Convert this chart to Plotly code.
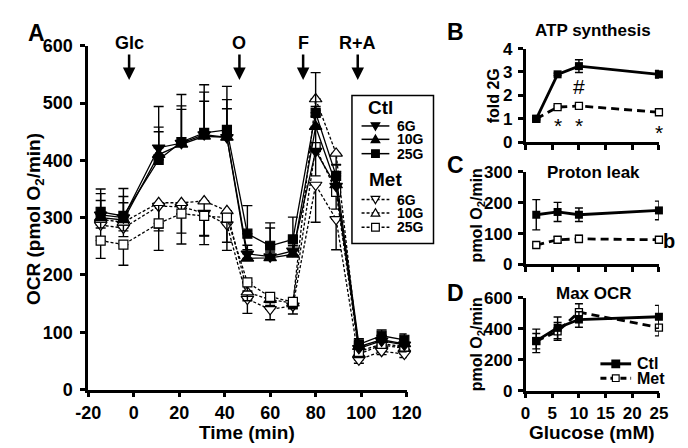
import plotly.graph_objects as go

FONT = "Liberation Sans, Arial, sans-serif"
W, H = 688, 448

# panel A: OCR time course (pmol O2/min)
time_min = [-14.5, -4.5, 11, 21, 31, 41, 50, 60, 70, 80, 89, 99, 109, 119]

ctl_6g = [305, 300, 422, 430, 445, 440, 237, 232, 242, 416, 355, 72, 85, 78]
ctl_10g = [300, 296, 410, 428, 442, 440, 229, 230, 236, 459, 357, 75, 87, 80]
ctl_25g = [310, 303, 401, 432, 448, 453, 272, 251, 262, 483, 373, 79, 94, 87]
met_6g = [287, 282, 320, 319, 308, 288, 158, 140, 146, 357, 297, 52, 67, 62]
met_10g = [297, 292, 326, 326, 329, 312, 170, 157, 151, 507, 412, 62, 78, 72]
met_25g = [260, 253, 290, 307, 303, 300, 187, 162, 153, 423, 345, 66, 80, 75]

ctl_6g_err = [37, 37, 72, 65, 74, 66, 15, 50, 15, 40, 25, 8, 8, 8]
ctl_10g_err = [30, 30, 40, 61, 61, 50, 15, 10, 15, 35, 20, 8, 8, 8]
ctl_25g_err = [40, 48, 57, 83, 84, 76, 49, 40, 39, 70, 20, 10, 10, 10]
met_6g_err = [20, 15, 38, 46, 40, 45, 25, 18, 14, 65, 53, 6, 6, 6]
met_10g_err = [15, 15, 49, 20, 60, 20, 15, 10, 10, 30, 20, 6, 6, 6]
met_25g_err = [31, 36, 47, 53, 50, 43, 15, 10, 10, 50, 30, 6, 6, 6]

time_ticks = [-20, 0, 20, 40, 60, 80, 100, 120]
time_tick_text = ["-20", "0", "20", "40", "60", "80", "100", "120"]

inject_labels = ["Glc", "O", "F", "R+A"]
inject_times = [-2, 46.5, 74.5, 98.5]

# panels B-D: vs glucose (mM)
glucose_mm = [2, 6, 10, 25]
atp_ctl = [1.0, 2.9, 3.25, 2.9]
atp_ctl_err = [0.05, 0.05, 0.27, 0.16]
atp_met = [1.0, 1.5, 1.55, 1.28]
atp_met_err = [0.03, 0.05, 0.05, 0.05]
leak_ctl = [161, 170, 161, 175]
leak_ctl_err = [49, 31, 22, 30]
leak_met = [63, 80, 83, 80]
leak_met_err = [5, 10, 12, 8]
max_ctl = [322, 406, 460, 478]
max_ctl_err = [76, 70, 50, 74]
max_met = [320, 383, 508, 408]
max_met_err = [50, 58, 54, 54]


def bold(size, family=FONT):
    return dict(family=family, size=size, color="black", weight="bold")


def px(x, y):
    return x / W, 1 - y / H


def axis(dom, rng, dtick, anchor, size=17, labels=True, standoff=0):
    return dict(domain=dom, range=rng, dtick=dtick, tick0=0, anchor=anchor,
                showline=True, linecolor="black", linewidth=2.5,
                ticks="outside", ticklen=5, tickwidth=2.5, tickcolor="black",
                showgrid=False, zeroline=False, showticklabels=labels,
                ticklabelstandoff=standoff,
                tickfont=bold(size), fixedrange=True)


fig = go.Figure()

# panel A traces
n = len(time_min)
zeros = [0] * n
series_a = [
    (met_6g, met_6g_err, "triangle-down", False, 11),
    (met_10g, met_10g_err, "triangle-up", False, 11),
    (met_25g, met_25g_err, "square", False, 9),
    (ctl_6g, ctl_6g_err, "triangle-down", True, 11),
    (ctl_10g, ctl_10g_err, "triangle-up", True, 11),
    (ctl_25g, ctl_25g_err, "square", True, 9),
]
for vals, err, sym, ctl, size in series_a:
    fig.add_trace(go.Scatter(
        x=time_min, y=vals, mode="lines+markers", xaxis="x", yaxis="y",
        line=dict(color="black", width=1.3, dash="solid" if ctl else "3px,2px"),
        marker=dict(symbol=sym, size=size, color="black" if ctl else "white",
                    line=dict(color="black", width=1.2)),
        error_y=dict(type="data", symmetric=False,
                     array=err if ctl else zeros,
                     arrayminus=zeros if ctl else err,
                     color="black", thickness=1.4, width=5),
        showlegend=False, cliponaxis=False,
    ))

# panels B-D traces
small = [
    ("x2", "y2", atp_ctl, atp_ctl_err, atp_met, atp_met_err),
    ("x3", "y3", leak_ctl, leak_ctl_err, leak_met, leak_met_err),
    ("x4", "y4", max_ctl, max_ctl_err, max_met, max_met_err),
]
for xa, ya, c, ce, m, me in small:
    fig.add_trace(go.Scatter(
        x=glucose_mm, y=m, mode="lines+markers", xaxis=xa, yaxis=ya,
        line=dict(color="black", width=2.8, dash="8px,5px"),
        marker=dict(symbol="square", size=7, color="white",
                    line=dict(color="black", width=1.3)),
        error_y=dict(type="data", array=me, color="black", thickness=1.4, width=4),
        showlegend=False, cliponaxis=False,
    ))
    fig.add_trace(go.Scatter(
        x=glucose_mm, y=c, mode="lines+markers", xaxis=xa, yaxis=ya,
        line=dict(color="black", width=2.8),
        marker=dict(symbol="square", size=8, color="black"),
        error_y=dict(type="data", array=ce, color="black", thickness=1.4, width=4),
        showlegend=False, cliponaxis=False,
    ))

xA = [70 / W, 402 / W]
xS = [526 / W, 665 / W]
x_time = axis(xA, [-20, 120], 20, "y", 18)
x_time.update(tickmode="array", tickvals=time_ticks, ticktext=time_tick_text)
fig.update_layout(
    xaxis=x_time,
    yaxis=axis([1 - 389 / H, 1 - 29 / H], [0, 600], 100, "x", 18, standoff=4),
    xaxis2=axis(xS, [0, 25], 5, "y2", labels=False),
    yaxis2=axis([1 - 130 / H, 1 - 32 / H], [0, 4], 1, "x2", standoff=2),
    xaxis3=axis(xS, [0, 25], 5, "y3", labels=False),
    yaxis3=axis([1 - 258 / H, 1 - 161 / H], [0, 300], 100, "x3", standoff=2),
    xaxis4=axis(xS, [0, 25], 5, "y4"),
    yaxis4=axis([1 - 390 / H, 1 - 293 / H], [0, 600], 200, "x4", standoff=2),
)

ann = []


def label(text, x, y, size, angle=0, xanchor="center", weight="bold"):
    px_, py_ = px(x, y)
    f = bold(size)
    f["weight"] = weight
    ann.append(dict(text=text, x=px_, y=py_, xref="paper", yref="paper",
                    showarrow=False, font=f, textangle=angle,
                    xanchor=xanchor, yanchor="middle"))


# panel letters, titles, axis titles
label("A", 16, 16, 23)
label("B", 453, 15, 23)
label("C", 453, 154, 23)
label("D", 453, 288, 23)
label("ATP synthesis", 596, 13, 17)
label("Proton leak", 597, 162, 17)
label("Max OCR", 597, 288, 17)
label("OCR (pmol O<sub>2</sub>/min)", 14, 210, 19, -90)
label("Time (min)", 236, 434, 19)
label("fold 2G", 492, 81, 16, -90)
label("pmol O<sub>2</sub>/min", 476, 207, 16, -90)
label("pmol O<sub>2</sub>/min", 476, 342, 16, -90)
label("Glucose (mM)", 595, 434, 19)

# injection arrows
for txt, t in zip(inject_labels, inject_times):
    ann.append(dict(text=txt, x=t, y=540, xref="x", yref="y", ax=0, ay=-37,
                    showarrow=True, arrowhead=2, arrowsize=1, arrowwidth=2.5,
                    arrowcolor="black", font=bold(18)))

# significance marks
for txt, x, y in [("*", 6, 0.7), ("*", 10, 0.7), ("*", 25, 0.4), ("#", 10, 2.37)]:
    ann.append(dict(text=txt, x=x, y=y, xref="x2", yref="y2", showarrow=False,
                    font=dict(family=FONT, size=21, color="#000000")))
label("b", 676, 233, 20)

# manual legends
shapes = []


def key_marker(kind, cx, cy, s, filled):
    h = s / 2
    if kind == "square":
        pts = [(cx - h, cy - h), (cx + h, cy - h), (cx + h, cy + h), (cx - h, cy + h)]
    elif kind == "up":
        pts = [(cx, cy - h), (cx + h, cy + h * 0.75), (cx - h, cy + h * 0.75)]
    else:
        pts = [(cx, cy + h), (cx + h, cy - h * 0.75), (cx - h, cy - h * 0.75)]
    path = "M" + " L".join("%.5f,%.5f" % px(*p) for p in pts) + " Z"
    shapes.append(dict(type="path", xref="paper", yref="paper", path=path,
                       fillcolor="black" if filled else "white",
                       line=dict(color="black", width=1.2), layer="above"))


def key_line(x0, x1, y, width, dash):
    a = px(x0, y)
    b = px(x1, y)
    shapes.append(dict(type="line", xref="paper", yref="paper",
                       x0=a[0], y0=a[1], x1=b[0], y1=b[1],
                       line=dict(color="black", width=width, dash=dash), layer="above"))


b0 = px(345, 81)
b1 = px(430, 236)
shapes.append(dict(type="rect", xref="paper", yref="paper", x0=b0[0], y0=b1[1],
                   x1=b1[0], y1=b0[1], line=dict(color="black", width=1.5),
                   fillcolor="white", layer="above"))
label("Ctl", 375, 94, 19)
label("Met", 380, 169, 19)
for name, kind, y in [("6G", "down", 113), ("10G", "up", 127), ("25G", "square", 142)]:
    key_line(355, 384, y, 1.5, "solid")
    key_marker(kind, 369.5, y, 9 if kind != "square" else 8, True)
    label(name, 390, y, 14, xanchor="left")
for name, kind, y in [("6G", "down", 190), ("10G", "up", 204), ("25G", "square", 219)]:
    key_line(355, 384, y, 1.5, "3px,2px")
    key_marker(kind, 369.5, y, 9 if kind != "square" else 8, False)
    label(name, 390, y, 14, xanchor="left")

key_line(604, 636, 362, 3, "solid")
key_marker("square", 620, 362, 8, True)
label("Ctl", 640, 362, 16, xanchor="left")
key_line(604, 636, 377, 3, "6px,4px")
key_marker("square", 620, 377, 7, False)
label("Met", 640, 377, 16, xanchor="left")

fig.update_layout(
    width=W, height=H, margin=dict(l=0, r=0, t=0, b=0),
    plot_bgcolor="white", paper_bgcolor="white",
    font=dict(family=FONT, color="black"),
    annotations=ann, shapes=shapes, showlegend=False,
)

fig.write_html("out.html")
